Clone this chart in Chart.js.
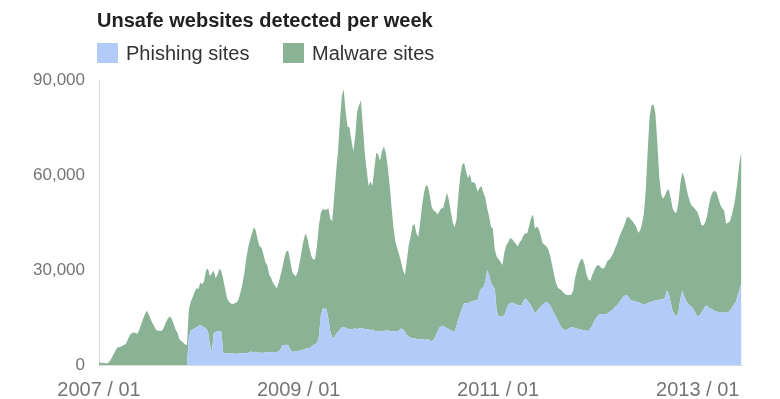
<!DOCTYPE html>
<html>
<head>
<meta charset="utf-8">
<script src="https://cdn.jsdelivr.net/npm/chart.js@4/dist/chart.umd.min.js"></script>
<style>
  html, body { margin: 0; padding: 0; background: #fff; }
  #wrap { position: relative; width: 780px; height: 399px; font-family: "Liberation Sans", Arial, sans-serif; }
  #c { position: absolute; left: 0; top: 0; }
  #title { position: absolute; left: 97px; top: 8px; font-size: 20px; line-height: 24px; font-weight: bold; color: #212121; white-space: nowrap; }
  .leg { position: absolute; top: 43px; height: 20px; display: flex; align-items: center; font-size: 20px; line-height: 20px; color: #333; white-space: nowrap; }
  .leg .box { width: 21px; height: 20px; margin-right: 8px; }
</style>
</head>
<body>
<div id="wrap">
  <canvas id="c" width="780" height="399"></canvas>
  <div id="title"></div>
  <div class="leg" id="leg0" style="left:97px"><span class="box"></span><span class="txt"></span></div>
  <div class="leg" id="leg1" style="left:283px"><span class="box"></span><span class="txt"></span></div>
</div>
<script>
const chartTitle = 'Unsafe websites detected per week';
const seriesNames = ['Phishing sites', 'Malware sites'];
const seriesColors = ['#b2cbf9', '#8ab396'];

// x tick positions (weeks since 2007/01) and their labels
const tickWeeks = [0, 104.43, 208.71, 313.14];
const tickLabels = ['2007 / 01', '2009 / 01', '2011 / 01', '2013 / 01'];
const yTicks = [0, 30000, 60000, 90000];

// weekly values, week 0 = first week of 2007
const phishing = [
  0,0,0,0,0,0,0,0,0,0,
  0,0,0,0,0,0,0,0,0,0,
  0,0,0,0,0,0,0,0,0,0,
  0,0,0,0,0,0,0,0,0,0,
  0,0,0,0,0,0,0,9000,11000,11200,
  11600,11900,12300,12600,12300,11900,11500,10500,6500,4000,
  10000,10500,10600,10700,10500,3700,3600,3600,3700,3700,
  3700,3600,3500,3600,3700,3700,3700,3800,3900,4200,
  4200,4000,4200,3900,4000,3800,3900,4000,4000,4100,
  4100,4100,4100,4100,4300,5000,6300,6300,6400,6300,
  5000,4200,4200,4300,4400,4600,4700,4900,5100,5200,
  5400,5800,6300,6600,6900,9000,15500,17800,18000,17500,
  14500,10500,8600,8700,9700,10600,11200,12000,12000,11800,
  11500,11300,11400,11400,11700,11200,11600,11700,11600,11400,
  11300,11200,11000,11200,10800,10700,10600,10600,10800,10700,
  10800,10900,10700,10600,10700,10600,10500,11000,11500,11300,
  10500,9500,9000,8600,8400,8400,8300,8100,8100,8100,
  8000,8000,8100,7800,7500,8000,9000,10500,11800,12200,
  12400,12000,11700,11300,11000,10700,10500,12500,14500,16300,
  18000,19500,19500,19500,20000,20000,20300,20400,20500,23000,
  24200,24500,26200,30000,28500,26000,25000,24000,17000,15300,
  15300,15300,15800,17400,19000,19500,19700,19500,19200,18900,
  18900,18900,20300,21000,20500,19600,18800,17500,16300,17000,
  17800,18400,19000,19600,20000,19500,18800,17500,16300,15200,
  14000,12800,11700,11300,11000,11200,11600,12000,11900,11700,
  11500,11300,11200,11000,10900,10800,10700,11500,12500,14000,
  14800,15700,16000,16000,16100,16000,16300,16700,17200,17700,
  18500,18900,19800,20500,21500,21900,22100,21500,20500,20300,
  20200,20000,19900,19600,19300,19200,19300,19500,19800,20000,
  20200,20400,20500,20600,20700,20700,21500,23500,22500,19800,
  17000,16000,15300,16500,20500,23500,21800,20300,19500,18800,
  18300,17500,16300,15400,15600,16500,17400,18600,18700,18000,
  17900,17500,17100,16900,16700,16600,16700,16700,16500,16600,
  17200,18000,19000,19800,22000,23800,25800
];

const malware = [
  800,700,600,600,500,800,1600,2600,3800,5000,
  5700,5600,6000,6300,6600,8000,9200,10000,10300,10200,
  9800,11000,12700,14500,16000,17100,16000,14500,13200,12100,
  11000,10800,10800,10800,12000,13500,14700,15300,14600,13000,
  11300,10200,8200,7600,7100,6500,6300,8500,9000,10300,
  11400,12300,11700,13400,13200,14600,18500,20000,21500,25000,
  19800,17000,17900,19800,19000,23300,20400,17400,16300,15700,
  15600,15900,16300,17100,19300,21800,25300,29700,33100,35300,
  37300,39500,38300,35600,33500,33200,31100,28500,27500,24400,
  23400,21900,20900,20100,21700,23500,24700,27700,29600,29700,
  28000,25300,24300,23700,25100,27900,31300,34600,36400,34800,
  31600,28700,27000,26900,30600,35000,32500,31500,31000,31500,
  35000,35500,36900,44300,51300,56900,65800,73000,75000,68200,
  63800,63700,59600,56100,60300,68800,70400,71800,63900,55600,
  50200,45300,47000,45300,51200,56300,55900,53900,56700,58300,
  56200,51600,46300,39400,32800,28400,26300,23800,21000,18700,
  17900,23500,29000,31900,35600,36100,33200,32400,36900,42400,
  46500,48700,48400,45700,42500,40800,39500,37000,36700,37300,
  37100,40000,42800,40700,37500,34300,33000,33500,39500,43700,
  45300,44300,41500,39500,40300,37500,37600,36600,34200,33000,
  32300,30000,26800,19500,18500,17700,18000,12500,17300,18100,
  17300,16300,19700,20400,19800,20500,20100,19500,19100,18500,
  19900,20600,20700,20600,21100,24400,27700,30000,26700,26700,
  25200,22600,19500,18400,17500,17000,15700,14000,12200,10800,
  10300,11200,11800,11500,11300,10900,10500,10100,11600,15800,
  18500,20700,22100,22500,20600,17700,16300,15100,16000,15800,
  16400,15900,15200,14500,14400,15500,16700,16600,17100,17600,
  18500,19400,20500,21300,21500,22700,24400,25300,25500,25200,
  24300,23600,21900,22900,25200,28800,36200,48500,58700,62000,
  62100,59100,50000,38900,33300,31800,32000,31500,33000,33000,
  32500,32300,32700,34500,36500,37300,37700,36200,34300,32800,
  32000,32300,32700,32900,30900,27800,26600,26400,28300,32500,
  35300,37100,37900,37600,35800,33900,32800,32000,28000,28400,
  28100,29500,31000,33700,36500,40200,41600
];

const weeks = phishing.map((_, i) => i);

document.getElementById('title').textContent = chartTitle;
['leg0', 'leg1'].forEach((id, i) => {
  const el = document.getElementById(id);
  el.querySelector('.box').style.background = seriesColors[i];
  el.querySelector('.txt').textContent = seriesNames[i];
});

const tickFont = { family: '"Liberation Sans", Arial, sans-serif' };

new Chart(document.getElementById('c'), {
  type: 'line',
  data: {
    labels: weeks,
    datasets: [
      { label: seriesNames[0], data: phishing, backgroundColor: seriesColors[0], borderColor: seriesColors[0], borderWidth: 0, fill: 'origin', pointRadius: 0, tension: 0 },
      { label: seriesNames[1], data: malware, backgroundColor: seriesColors[1], borderColor: seriesColors[1], borderWidth: 0, fill: '-1', pointRadius: 0, tension: 0 }
    ]
  },
  options: {
    responsive: false,
    animation: false,
    devicePixelRatio: 1,
    layout: { padding: { top: 80, right: 38, bottom: 0, left: 0 } },
    plugins: { legend: { display: false }, title: { display: false }, tooltip: { enabled: false } },
    scales: {
      x: {
        type: 'linear',
        min: 0,
        max: 336.3,
        grid: { display: false, drawTicks: false },
        border: { display: true, color: '#dcdcdc', width: 1 },
        afterBuildTicks: (s) => { s.ticks = tickWeeks.map(v => ({ value: v })); },
        afterFit: (s) => { s.height = 34; },
        ticks: {
          autoSkip: false, maxRotation: 0, padding: 13,
          color: '#757575', font: { ...tickFont, size: 20 },
          callback: (v, i) => tickLabels[i]
        }
      },
      y: {
        stacked: true,
        min: 0,
        max: 90000,
        grid: { display: false, drawTicks: false },
        border: { display: true, color: '#dcdcdc', width: 1 },
        afterBuildTicks: (s) => { s.ticks = yTicks.map(v => ({ value: v })); },
        afterFit: (s) => { s.width = 99; },
        ticks: {
          padding: 14,
          color: '#757575', font: { ...tickFont, size: 17 },
          callback: (v) => v.toLocaleString('en-US')
        }
      }
    }
  }
});
</script>
</body>
</html>
